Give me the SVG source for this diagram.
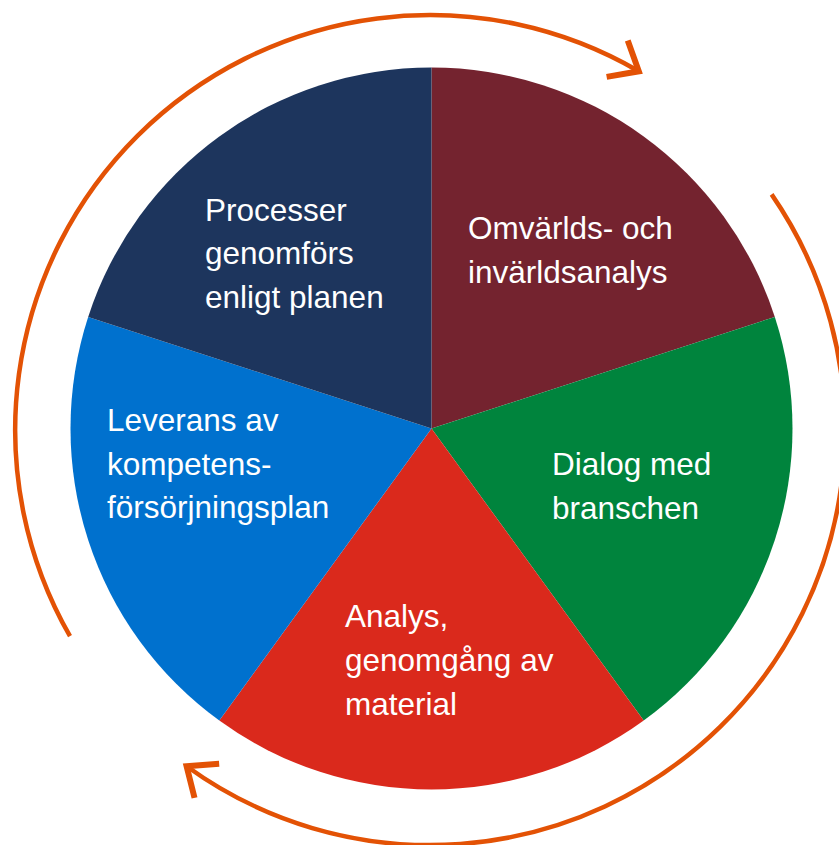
<svg xmlns="http://www.w3.org/2000/svg" width="839" height="845" viewBox="0 0 839 845">
  <defs>
    <style>
      .lbl { fill: #ffffff; font-family: "Liberation Sans", Arial, sans-serif; font-size: 31.5px; }
      .ring { fill: none; stroke: #E35205; stroke-width: 4.5; }
    </style>
    <marker id="chev" markerUnits="userSpaceOnUse" markerWidth="60" markerHeight="60" viewBox="-40 -30 50 60" refX="0" refY="0" orient="auto" overflow="visible">
      <path d="M -25,-21 L 0,0 L -25,21" fill="none" stroke="#E35205" stroke-width="6" stroke-linejoin="miter"/>
    </marker>
  </defs>
  <rect width="839" height="845" fill="#ffffff"/>

  <g id="slice-omvarld">
    <path d="M 431.5,428.5 L 431.5,67.5 A 361 361 0 0 1 774.83,316.95 Z" fill="#74232F"/>
    <text class="lbl" x="468" y="239">Omvärlds- och</text>
    <text class="lbl" x="468" y="283">invärldsanalys</text>
  </g>
  <g id="slice-dialog">
    <path d="M 431.5,428.5 L 774.83,316.95 A 361 361 0 0 1 643.69,720.56 Z" fill="#00843D"/>
    <text class="lbl" x="552" y="475">Dialog med</text>
    <text class="lbl" x="552" y="519">branschen</text>
  </g>
  <g id="slice-analys">
    <path d="M 431.5,428.5 L 643.69,720.56 A 361 361 0 0 1 219.31,720.56 Z" fill="#DA291C"/>
    <text class="lbl" x="345" y="627">Analys,</text>
    <text class="lbl" x="345" y="671">genomgång av</text>
    <text class="lbl" x="345" y="715">material</text>
  </g>
  <g id="slice-leverans">
    <path d="M 431.5,428.5 L 219.31,720.56 A 361 361 0 0 1 88.17,316.95 Z" fill="#0071CE"/>
    <text class="lbl" x="107" y="431">Leverans av</text>
    <text class="lbl" x="107" y="475">kompetens-</text>
    <text class="lbl" x="107" y="518">försörjningsplan</text>
  </g>
  <g id="slice-processer">
    <path d="M 431.5,428.5 L 88.17,316.95 A 361 361 0 0 1 431.5,67.5 Z" fill="#1D355D"/>
    <text class="lbl" x="205" y="221">Processer</text>
    <text class="lbl" x="205" y="264">genomförs</text>
    <text class="lbl" x="205" y="308">enligt planen</text>
  </g>

  <g id="connectors">
    <path class="ring" d="M 70.0,636.2 A 415 415 0 0 1 638.8,71.3" marker-end="url(#chev)"/>
    <path class="ring" d="M 771.6,194.4 A 415 415 0 0 1 186.6,766.2" marker-end="url(#chev)"/>
  </g>
</svg>
